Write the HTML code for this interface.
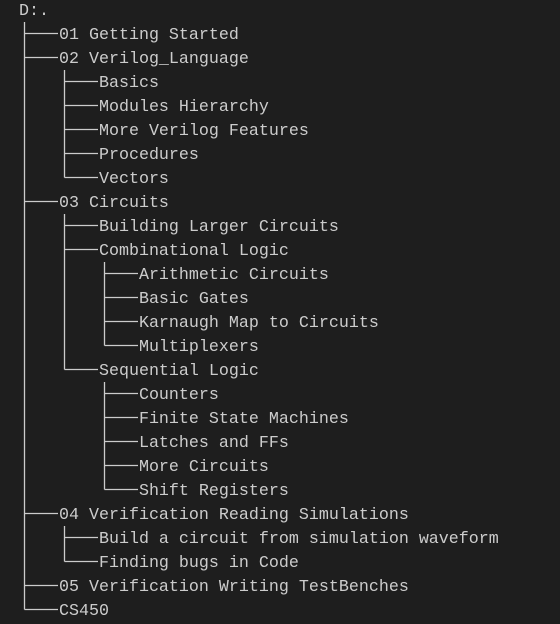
<!DOCTYPE html><html><head><style>
html,body{margin:0;background:#1e1e1e;width:560px;height:621px;overflow:hidden}
pre{position:absolute;left:19px;top:0px;margin:0;font-family:"Liberation Mono",monospace;font-size:16.67px;line-height:24px;color:#cccccc}
svg{position:absolute;left:0;top:0}
</style></head><body><pre>D:.
    01 Getting Started
    02 Verilog_Language
        Basics
        Modules Hierarchy
        More Verilog Features
        Procedures
        Vectors
    03 Circuits
        Building Larger Circuits
        Combinational Logic
            Arithmetic Circuits
            Basic Gates
            Karnaugh Map to Circuits
            Multiplexers
        Sequential Logic
            Counters
            Finite State Machines
            Latches and FFs
            More Circuits
            Shift Registers
    04 Verification Reading Simulations
        Build a circuit from simulation waveform
        Finding bugs in Code
    05 Verification Writing TestBenches
    CS450</pre>
<svg width="560" height="621" stroke="#cccccc" stroke-width="1.3" fill="none">
<path d="M24.5 22V609.5
M24.5 33.5H58M24.5 57.5H58M24.5 201.5H58M24.5 513.5H58M24.5 585.5H58M24.5 609.5H58
M64.5 70V177.5M64.5 81.5H98M64.5 105.5H98M64.5 129.5H98M64.5 153.5H98M64.5 177.5H98
M64.5 214V369.5M64.5 225.5H98M64.5 249.5H98M64.5 369.5H98
M64.5 526V561.5M64.5 537.5H98M64.5 561.5H98
M104.5 262V345.5M104.5 273.5H138M104.5 297.5H138M104.5 321.5H138M104.5 345.5H138
M104.5 382V489.5M104.5 393.5H138M104.5 417.5H138M104.5 441.5H138M104.5 465.5H138M104.5 489.5H138"/>
</svg></body></html>
